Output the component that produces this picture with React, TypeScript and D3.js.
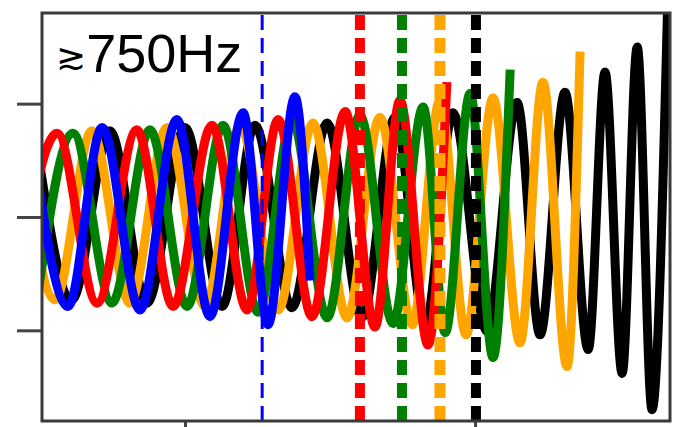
import React, { useRef, useEffect } from 'react';
import * as d3 from 'd3';

type Pt = [number, number];

// peaks and troughs of each trace (x in ms, y normalised)
const blueTrace: Pt[] = [
  [-5.31, 0.74], [-4.03, -0.79], [-2.86, 0.79], [-1.55, -0.82], [-0.28, 0.86],
  [0.86, -0.88], [2.0, 0.92], [2.86, -0.95], [3.79, 1.06], [4.31, -0.56],
];
const redTrace: Pt[] = [
  [-5.79, -0.73], [-4.41, 0.74], [-3.03, -0.76], [-1.66, 0.77], [-0.41, -0.79],
  [0.93, 0.81], [2.14, -0.82], [3.21, 0.86], [4.38, -0.88], [5.52, 0.93],
  [6.55, -0.97], [7.41, 1.03], [8.38, -1.13], [9.03, 1.19],
];
const greenTrace: Pt[] = [
  [-5.1, -0.73], [-3.86, 0.74], [-2.52, -0.76], [-1.21, 0.77], [0.07, -0.79],
  [1.31, 0.81], [2.52, -0.84], [3.69, 0.86], [4.9, -0.89], [6.03, 0.9],
  [7.17, -0.94], [8.21, 0.97], [8.97, -1.02], [9.83, 1.09], [10.62, -1.24],
  [11.21, 1.3],
];
const orangeTrace: Pt[] = [
  [-5.69, 0.74], [-4.48, -0.73], [-3.21, 0.76], [-1.9, -0.76], [-0.62, 0.79],
  [0.69, -0.79], [1.9, 0.81], [3.21, -0.82], [4.41, 0.83], [5.59, -0.89],
  [6.72, 0.88], [7.83, -0.95], [8.79, 1.03], [9.69, -1.04], [10.62, 1.05],
  [11.55, -1.11], [12.34, 1.19], [13.17, -1.32], [13.62, 1.46],
];
const blackTrace: Pt[] = [
  [-5.17, 0.74], [-3.9, -0.73], [-2.59, 0.76], [-1.31, -0.76], [0.0, 0.79],
  [1.28, -0.79], [2.41, 0.81], [3.69, -0.8], [4.9, 0.83], [6.1, -0.89],
  [7.24, 0.88], [8.28, -0.95], [9.24, 0.92], [10.41, -1.01], [11.45, 1.01],
  [12.24, -1.04], [13.1, 1.1], [13.9, -1.17], [14.48, 1.28], [15.07, -1.38],
  [15.59, 1.5], [16.1, -1.7], [16.66, 2.09],
];

// onset markers (x in ms)
const markerTimes = [2.66, 6.03, 7.48, 8.79, 10.03];
const markerColors = ['#0000ff', '#ff0000', '#008000', '#ffa500', '#000000'];
const markerWidths = [3, 10, 10, 11, 10];

const xTicks = [0, 10];
const yTicks = [-1, 0, 1];

const App: React.FC = () => {
  const svgRef = useRef<SVGSVGElement>(null);
  const width = 681;
  const height = 427;

  useEffect(() => {
    if (!svgRef.current) return;
    const svg = d3.select(svgRef.current);
    svg.selectAll('*').remove();

    const left = 42, top = 13, right = 670, bottom = 421;

    const x = d3.scaleLinear().domain([-4.93, 16.72]).range([left, right]);
    const y = d3.scaleLinear().domain([-1.8, 1.8]).range([bottom, top]);

    svg.append('defs').append('clipPath')
      .attr('id', 'plot-clip')
      .append('rect')
      .attr('x', left).attr('y', top)
      .attr('width', right - left).attr('height', bottom - top);

    const plot = svg.append('g').attr('clip-path', 'url(#plot-clip)');

    const line = d3.line<Pt>()
      .x(d => x(d[0]))
      .y(d => y(d[1]))
      .curve(d3.curveMonotoneX);

    // back to front
    const traces: { data: Pt[]; color: string }[] = [
      { data: blackTrace, color: '#000000' },
      { data: orangeTrace, color: '#ffa500' },
      { data: greenTrace, color: '#008000' },
      { data: redTrace, color: '#ff0000' },
      { data: blueTrace, color: '#0000ff' },
    ];

    traces.forEach(t => {
      plot.append('path')
        .datum(t.data)
        .attr('fill', 'none')
        .attr('stroke', t.color)
        .attr('stroke-width', 9)
        .attr('stroke-linejoin', 'round')
        .attr('d', line);
    });

    // dashed onset lines, drawn bottom-up so the dashes line up with the frame
    markerTimes.forEach((t, i) => {
      plot.append('line')
        .attr('x1', x(t)).attr('x2', x(t))
        .attr('y1', bottom).attr('y2', top)
        .attr('stroke', markerColors[i])
        .attr('stroke-width', markerWidths[i])
        .attr('stroke-dasharray', '15 8');
    });

    // axes: ticks only, no labels
    const yAxis = svg.append('g')
      .attr('transform', `translate(${left},0)`)
      .call(d3.axisLeft(y).tickValues(yTicks).tickSize(25).tickFormat(() => ''));
    yAxis.select('.domain').remove();
    yAxis.selectAll('line').attr('stroke', '#444').attr('stroke-width', 3);

    const xAxis = svg.append('g')
      .attr('transform', `translate(0,${bottom})`)
      .call(d3.axisBottom(x).tickValues(xTicks).tickSize(10).tickFormat(() => ''));
    xAxis.select('.domain').remove();
    xAxis.selectAll('line').attr('stroke', '#444').attr('stroke-width', 3);

    // frame
    svg.append('rect')
      .attr('x', left).attr('y', top)
      .attr('width', right - left).attr('height', bottom - top)
      .attr('fill', 'none')
      .attr('stroke', '#3a3a3a')
      .attr('stroke-width', 3);

    // frequency label
    const label = svg.append('text')
      .attr('x', 56)
      .attr('y', 72)
      .style('font-family', 'Arial, "Liberation Sans", sans-serif')
      .style('fill', '#000');
    label.append('tspan')
      .attr('dy', -3)
      .style('font-family', '"DejaVu Sans", sans-serif')
      .style('font-size', '36px')
      .text('≳');
    label.append('tspan')
      .attr('dy', 3)
      .style('font-size', '54px')
      .text('750Hz');
  }, []);

  return (
    <svg
      ref={svgRef}
      width={width}
      height={height}
      viewBox={`0 0 ${width} ${height}`}
      style={{ position: 'absolute', left: 0, top: 0, background: '#fff' }}
    />
  );
};

export default App;
